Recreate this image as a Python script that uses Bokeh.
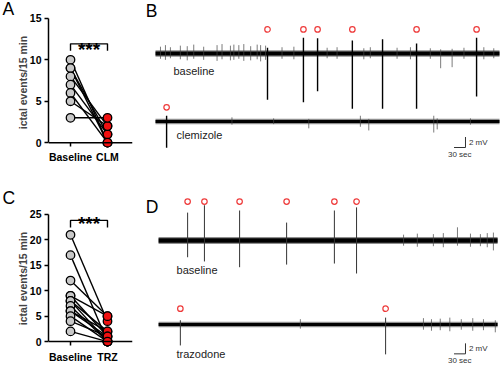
from bokeh.plotting import figure
from bokeh.models import Range1d, FixedTicker, Span, ColumnDataSource
from bokeh.layouts import row, column
from bokeh.core.properties import value
from bokeh.embed import file_html
from bokeh.resources import INLINE

FONT = "Liberation Sans"

# ---------------- data: panel A ----------------
a_groups = ["Baseline", "CLM"]
a_baseline = [10, 9, 9, 8, 7, 6, 5, 3]
a_clm = [0, 1, 0, 2, 1, 0, 2, 3]
a_ticks = [0, 5, 10, 15]

# ---------------- data: panel C ----------------
c_groups = ["Baseline", "TRZ"]
c_baseline = [21, 17, 12, 9, 9, 8, 8, 7, 6, 6, 5, 4, 2]
c_trz = [4, 0, 5, 5, 1, 2, 0, 0, 2, 1, 0, 1, 0]
c_ticks = [0, 5, 10, 15, 20, 25]

y_title = "ictal events/15 min"
sig_text = "***"

# ---------------- data: traces (time in s, amplitude in mV) ----------------
# B baseline
bb_start, bb_end = 0, 900
bb_event_t = [293, 387, 424, 515, 594, 683, 840]
bb_event_up = [1.1, 3.0, 2.9, 2.5, 2.7, 1.9, 3.0]
bb_event_down = [-8.8, -9.3, -7.2, -10.5, -10.5, -10.5, -8.2]
bb_mark_t = [293, 387, 424, 515, 683, 840]
bb_small_t = [13, 26, 39, 65, 83, 100, 126, 161, 174, 196, 205, 218, 231, 249, 266, 275,
              288, 331, 362, 449, 475, 545, 562, 632, 667, 719, 746, 776, 807, 859, 885]
bb_small_up = [1.3, 1.6, 1.2, 1.5, 1.4, 1.7, 1.3, 1.6, 1.8, 1.5, 1.7, 1.6, 1.8, 1.4, 1.7, 1.6,
               1.5, 1.2, 1.3, 1.1, 1.2, 1.0, 1.2, 1.1, 1.2, 1.0, 0.8, 0.9, 1.1, 1.2, 1.0]
bb_small_down = [-1.0, -1.2, -0.9, -1.1, -1.3, -1.0, -1.2, -1.4, -1.1, -1.3, -1.2, -1.0, -1.4, -1.3, -1.1, -1.5,
                 -1.2, -1.0, -1.1, -0.9, -1.0, -1.1, -0.9, -1.0, -1.1, -1.0, -2.8, -2.6, -1.0, -1.1, -0.9]

# B clemizole
bc_start, bc_end = 0, 900
bc_event_t = [29]
bc_event_up = [1.1]
bc_event_down = [-5.0]
bc_mark_t = [29]
bc_small_t = [200, 309, 401, 536, 558, 728, 737, 824]
bc_small_up = [0.8, 0.6, 0.5, 1.1, 0.5, 1.1, 0.6, 0.6]
bc_small_down = [-0.6, -0.5, -1.3, -1.0, -1.7, -2.1, -1.5, -0.6]

# D baseline
db_start, db_end = 8, 895
db_event_t = [84, 128, 220, 343, 468, 526]
db_event_up = [5.3, 6.7, 5.7, 3.4, 5.7, 6.3]
db_event_down = [-3.2, -4.0, -5.1, -4.6, -4.4, -6.3]
db_mark_t = [84, 128, 220, 343, 468, 526]
db_small_t = [649, 685, 727, 753, 790, 824, 850, 868, 884]
db_small_up = [1.1, 1.3, 1.2, 1.4, 2.5, 1.3, 1.2, 1.4, 1.5]
db_small_down = [-1.0, -1.2, -1.1, -1.3, -1.0, -1.2, -1.1, -1.3, -1.9]

# D trazodone
dt_start, dt_end = 8, 895
dt_event_t = [65, 602]
dt_event_up = [0.8, 1.3]
dt_event_down = [-4.0, -5.7]
dt_mark_t = [65, 602]
dt_small_t = [379, 701, 722, 745, 770, 800, 830, 858, 889]
dt_small_up = [1.0, 1.2, 1.0, 1.1, 1.3, 1.0, 1.2, 1.0, 0.8]
dt_small_down = [-0.8, -1.0, -1.2, -1.1, -1.3, -1.0, -1.2, -1.1, -1.5]

trace_names = ["baseline", "clemizole", "baseline", "trazodone"]
scale_sec = 30
scale_mv = 2

# ---------------- layout constants ----------------
offsets = [-10.1, -23.05, -45.7, -61.7]          # vertical position of each trace
mark_gap = [4.6, 2.7, 7.4, 3.0]                   # height of event markers above trace
label_y = [-13.5, -25.7, -51.4, -67.4]
label_t = [47, 55, 55, 55]
bar_t = 811
bar_y = [-28.0, -67.3]

GREY = "#c8c8c8"
RED = "#f01010"
MARK = "#ee3a3a"


def scatter_panel(groups, base, treat, ticks, yr, h, mb_top, mb_bottom, letter, letter_standoff,
                  bracket, star_y, px_per_unit):
    p = figure(width=145, height=h, output_backend="svg", toolbar_location=None,
               x_range=Range1d(-0.595, 1.676), y_range=Range1d(*yr),
               min_border_left=48, min_border_right=13, min_border_top=mb_top,
               min_border_bottom=mb_bottom)
    p.outline_line_color = None
    p.grid.visible = False
    # x axis line at zero with category ticks
    p.add_layout(Span(location=0, dimension="width", line_color="black", line_width=1.5))
    tick_len = 4.0 / px_per_unit
    p.segment([0, 1], [0, 0], [0, 1], [-tick_len, -tick_len], line_color="black", line_width=1.5)
    src = ColumnDataSource(dict(x0=[0] * len(base), x1=[1] * len(base), y0=base, y1=treat))
    p.segment("x0", "y0", "x1", "y1", source=src, line_color="black", line_width=1.4)
    p.scatter([0] * len(base), base, size=8.5, fill_color=GREY, line_color="black", line_width=1.3)
    p.scatter([1] * len(treat), treat, size=8.5, fill_color=RED, line_color="black", line_width=1.3)
    # significance bracket
    top, drop = bracket
    p.line([0, 0, 1, 1], [drop, top, top, drop], line_color="black", line_width=1.4)
    p.text([0.5], [star_y], text=[sig_text], text_font=value(FONT), text_font_size="19px",
           text_font_style="bold", text_align="center", text_baseline="alphabetic", text_color="black")
    # axes
    p.xaxis.ticker = FixedTicker(ticks=[0, 1])
    p.xaxis.major_label_overrides = {0: groups[0], 1: groups[1]}
    p.xaxis.axis_line_color = None
    p.xaxis.major_tick_line_color = None
    p.xaxis.major_tick_out = 0
    p.xaxis.major_tick_in = 0
    p.yaxis.ticker = FixedTicker(ticks=ticks)
    p.yaxis.bounds = (ticks[0], ticks[-1])
    p.yaxis.axis_label = y_title
    p.yaxis.axis_line_width = 1.5
    p.yaxis.major_tick_line_width = 1.5
    p.yaxis.major_tick_in = 0
    p.yaxis.major_tick_out = 4
    p.yaxis.major_label_standoff = 3
    p.xaxis.major_label_standoff = 1
    for ax in (p.xaxis[0], p.yaxis[0]):
        ax.minor_tick_line_color = None
        ax.major_label_text_font = FONT
        ax.major_label_text_font_style = "bold"
        ax.major_label_text_font_size = "10.5px"
        ax.major_label_text_color = "black"
    p.yaxis.axis_label_text_font = FONT
    p.yaxis.axis_label_text_font_style = "bold"
    p.yaxis.axis_label_text_font_size = "10.5px"
    p.yaxis.axis_label_standoff = -2
    # panel letter as title
    p.title.text = letter
    p.title.align = "left"
    p.title.offset = -46
    p.title.standoff = letter_standoff
    p.title.vertical_align = "bottom"
    p.title.text_font = FONT
    p.title.text_font_size = "17.5px"
    p.title.text_font_style = "normal"
    p.title.text_color = "black"
    return p


pA = scatter_panel(a_groups, a_baseline, a_clm, a_ticks, (-0.827, 15.354), 165, 14, 14, "A", -7,
                   (11.93, 11.10), 11.3, 8.467)
pC = scatter_panel(c_groups, c_baseline, c_trz, c_ticks, (-1.5625, 26.37), 200, 42, 15, "C", 0,
                   (23.83, 22.46), 23.3, 5.12)

# ---------------- traces figure ----------------
pR = figure(width=355, height=365, output_backend="svg", toolbar_location=None,
            x_range=Range1d(-26.2, 902.6), y_range=Range1d(-69.52, 0),
            x_axis_type=None, y_axis_type=None,
            min_border=0, min_border_left=0, min_border_right=0, min_border_top=0, min_border_bottom=0)
pR.outline_line_color = None

traces = [
    (bb_start, bb_end, bb_event_t, bb_event_up, bb_event_down, bb_mark_t, bb_small_t, bb_small_up, bb_small_down, 6.5),
    (bc_start, bc_end, bc_event_t, bc_event_up, bc_event_down, bc_mark_t, bc_small_t, bc_small_up, bc_small_down, 5.5),
    (db_start, db_end, db_event_t, db_event_up, db_event_down, db_mark_t, db_small_t, db_small_up, db_small_down, 7.0),
    (dt_start, dt_end, dt_event_t, dt_event_up, dt_event_down, dt_mark_t, dt_small_t, dt_small_up, dt_small_down, 5.5),
]
for i, (t0, t1, et, eu, ed, mt, st, su, sd, bw) in enumerate(traces):
    off = offsets[i]
    pR.line([t0, t1], [off, off], line_color="#333333", line_width=bw, line_alpha=0.55)
    pR.line([t0, t1], [off, off], line_color="black", line_width=bw - 2.5)
    pR.segment(st, [off + v for v in sd], st, [off + v for v in su], line_color="#444444", line_width=0.7)
    pR.segment(et, [off + v for v in ed], et, [off + v for v in eu],
               line_color="black" if i < 2 else "#333333",
               line_width=1.4 if i < 2 else 1.0)
    pR.scatter(mt, [off + mark_gap[i]] * len(mt), size=5.5, marker="circle", fill_color=None,
               line_color=MARK, line_width=1.2)

pR.text(label_t, label_y, text=trace_names, text_font=value(FONT), text_font_size="11px",
        text_align="left", text_baseline="middle", text_color="#222222")

# scale bars
for by in bar_y:
    pR.line([bar_t - scale_sec, bar_t, bar_t], [by, by, by + scale_mv], line_color="#333333", line_width=1)
pR.text([bar_t + 9] * 2, [by + scale_mv / 2 for by in bar_y], text=[f"{scale_mv} mV"] * 2,
        text_font=value(FONT), text_font_size="8px", text_align="left", text_baseline="middle",
        text_color="#333333")
pR.text([bar_t - scale_sec / 2] * 2, [by - 0.5 for by in bar_y], text=[f"{scale_sec} sec"] * 2,
        text_font=value(FONT), text_font_size="8px", text_align="center", text_baseline="top",
        text_color="#333333")

# panel letters
pR.text([-25.5, -25.5], [0, -37.5], text=["B", "D"], text_font=value(FONT), text_font_size="17.5px",
        text_align="left", text_baseline="top", text_color="black")

layout = row(column(pA, pC), pR)
open("out.html", "w").write(file_html(layout, INLINE))
